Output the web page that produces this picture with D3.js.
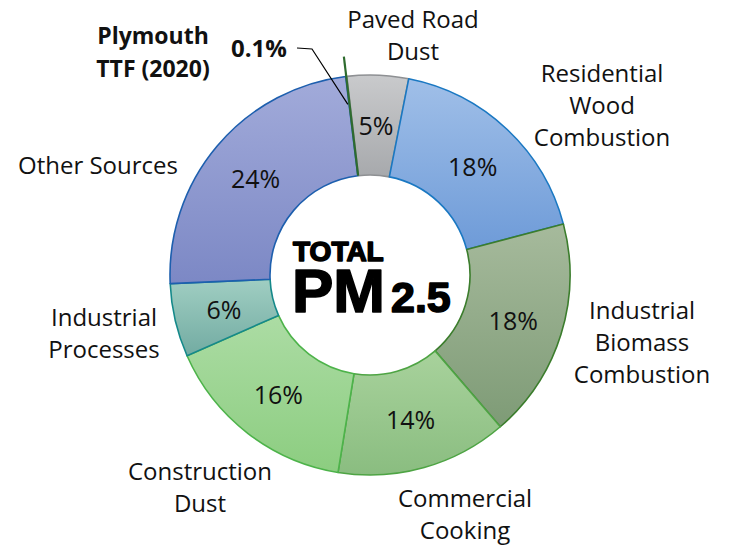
<!DOCTYPE html>
<html>
<head>
<meta charset="utf-8">
<script src="https://cdn.jsdelivr.net/npm/d3@7"></script>
<style>
  body { margin: 0; background: #fff; }
  text { font-family: 'Open Sans', 'Noto Sans', sans-serif; }
  text.title { font-family: 'Liberation Sans', Arial, sans-serif; font-weight: bold; }
</style>
</head>
<body>
<div id="chart"></div>
<script>
// slices clockwise, starting with the tiny Plymouth TTF slice
const categories = ['Plymouth TTF (2020)', 'Paved Road Dust', 'Residential Wood Combustion',
  'Industrial Biomass Combustion', 'Commercial Cooking', 'Construction Dust',
  'Industrial Processes', 'Other Sources']
const values = [0.1, 5, 18, 18, 14, 16, 6, 24]
const pctLabels = ['0.1%', '5%', '18%', '18%', '14%', '16%', '6%', '24%']
const nameLines = [
  ['Plymouth', 'TTF (2020)'],
  ['Paved Road', 'Dust'],
  ['Residential', 'Wood', 'Combustion'],
  ['Industrial', 'Biomass', 'Combustion'],
  ['Commercial', 'Cooking'],
  ['Construction', 'Dust'],
  ['Industrial', 'Processes'],
  ['Other Sources']
]

// fill gradient top / bottom and outline colour per slice
const topColors = ['#2f6f2f', '#c9cacc', '#a0bfe8', '#a6ba9c', '#a8d29c', '#acdca4', '#a0cec2', '#a2abda']
const bottomColors = ['#2f6f2f', '#a7a9ac', '#6e9bd8', '#7e9b76', '#8abd80', '#8ccd80', '#72aba2', '#7c88c5']
const strokeColors = ['#2e6b2e', '#8e9093', '#1a78c2', '#3b7d2c', '#4ea444', '#4db34a', '#15898a', '#1d5fae']

// label anchor positions (centre of the text block)
const labelPos = [
  [153, 35], [413, 18], [602, 72], [642, 309], [465, 497], [200, 470], [104, 316], [98, 164]
]

const width = 729
const height = 546
const cx = 370
const cy = 275
const outerR = 200
const innerR = 100

const svg = d3.select('#chart')
  .append('svg')
  .attr('width', width)
  .attr('height', height)

const defs = svg.append('defs')
categories.forEach((c, i) => {
  const g = defs.append('linearGradient')
    .attr('id', 'grad' + i)
    .attr('x1', 0).attr('y1', 0).attr('x2', 0).attr('y2', 1)
  g.append('stop').attr('offset', '0%').attr('stop-color', topColors[i])
  g.append('stop').attr('offset', '100%').attr('stop-color', bottomColors[i])
})

const startAngle = -7 * Math.PI / 180
const pie = d3.pie()
  .sort(null)
  .startAngle(startAngle)
  .endAngle(startAngle + 2 * Math.PI)
  .value(d => d)

const arcs = pie(values)

const arc = d3.arc()
  .innerRadius(innerR)
  .outerRadius(outerR)

const chart = svg.append('g')
  .attr('transform', 'translate(' + cx + ',' + cy + ')')

// draw slices; the tiny one is drawn separately as a line
const order = [1, 2, 3, 4, 5, 6, 7]
chart.selectAll('path.slice')
  .data(order.map(i => Object.assign({ idx: i }, arcs[i])))
  .enter()
  .append('path')
  .attr('class', 'slice')
  .attr('d', arc)
  .attr('fill', d => 'url(#grad' + d.idx + ')')
  .attr('stroke', d => strokeColors[d.idx])
  .attr('stroke-width', 1.6)
  .attr('stroke-linejoin', 'round')

// the 0.1% slice shows only as a thin dark green line
const tiny = arcs[0]
const tinyAngle = (tiny.startAngle + tiny.endAngle) / 2
const polar = (a, r) => [Math.sin(a) * r, -Math.cos(a) * r]
chart.append('line')
  .attr('x1', polar(tinyAngle, innerR)[0])
  .attr('y1', polar(tinyAngle, innerR)[1])
  .attr('x2', polar(tinyAngle, outerR + 20)[0])
  .attr('y2', polar(tinyAngle, outerR + 20)[1])
  .attr('stroke', strokeColors[0])
  .attr('stroke-width', 2.2)

// leader line from 0.1% label
const leadEnd = polar(tinyAngle - 0.01, 172)
chart.append('path')
  .attr('d', 'M' + (297 - cx) + ',' + (48 - cy) + 'L' + (312 - cx) + ',' + (49 - cy) +
    'L' + leadEnd[0] + ',' + leadEnd[1])
  .attr('fill', 'none')
  .attr('stroke', '#000')
  .attr('stroke-width', 1.2)

// percentage labels inside the ring
const labelArc = d3.arc().innerRadius(150).outerRadius(150)
chart.selectAll('text.pct')
  .data(arcs.slice(1))
  .enter()
  .append('text')
  .attr('class', 'pct')
  .attr('transform', d => 'translate(' + labelArc.centroid(d) + ')')
  .attr('text-anchor', 'middle')
  .attr('dominant-baseline', 'central')
  .style('font-size', '25px')
  .attr('fill', '#111')
  .text((d, i) => pctLabels[i + 1])

svg.append('text')
  .attr('x', 259)
  .attr('y', 47)
  .attr('text-anchor', 'middle')
  .attr('dominant-baseline', 'central')
  .style('font-size', '24px')
  .style('font-weight', 'bold')
  .attr('fill', '#111')
  .text(pctLabels[0])

// category names outside the ring
const lineH = 32
nameLines.forEach((lines, i) => {
  const t = svg.append('text')
    .attr('text-anchor', 'middle')
    .attr('fill', '#111')
    .style('font-size', i === 0 ? '23px' : '24px')
    .style('font-weight', i === 0 ? 'bold' : 'normal')
  lines.forEach((l, j) => {
    t.append('tspan')
      .attr('x', labelPos[i][0])
      .attr('y', labelPos[i][1] + j * (i === 0 ? 33 : lineH))
      .attr('dominant-baseline', 'central')
      .text(l)
  })
})

// centre title, one text element with two lines
const title = svg.append('text')
  .attr('class', 'title')
  .attr('fill', '#000')
  .attr('stroke', '#000')
  .attr('stroke-width', 1.6)
  .attr('stroke-linejoin', 'round')
title.append('tspan')
  .attr('x', 293)
  .attr('y', 261)
  .style('font-size', '28px')
  .text('TOTAL')
title.append('tspan')
  .attr('x', 292)
  .attr('y', 312)
  .style('font-size', '62px')
  .text('PM')
title.append('tspan')
  .attr('dx', 6)
  .style('font-size', '43px')
  .text('2.5')
</script>
</body>
</html>
